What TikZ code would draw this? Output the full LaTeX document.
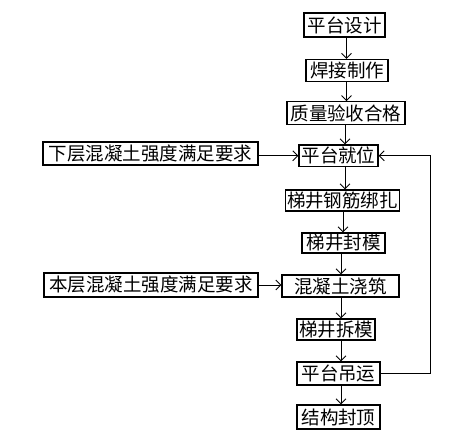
\documentclass[tikz,border=0pt]{standalone}
\usepackage{fontspec}
\newfontfamily\cjk{Noto Sans CJK SC}
\usetikzlibrary{arrows.meta}
\begin{document}
\begin{tikzpicture}[x=1pt,y=-1pt,
  box/.style={draw, line width=1.2pt, inner sep=0pt, font=\cjk\fontsize{18.5}{19}\selectfont},
  arr/.style={line width=0.9pt, -{Straight Barb[length=5pt,width=10pt,line width=0.9pt]}},
  ln/.style={line width=0.9pt}]
\useasboundingbox (0,0) rectangle (459,448);
\fill[white] (0,0) rectangle (459,448);
\node[box, minimum width=81pt, minimum height=24pt] (n1) at (344.5,25) {平台设计};
\node[box, minimum width=82pt, minimum height=22pt] (n2) at (347,70.5) {焊接制作};
\node[box, minimum width=118pt, minimum height=23pt] (n3) at (346,113.3) {质量验收合格};
\node[box, minimum width=79pt, minimum height=21.5pt] (n4) at (338.5,155.8) {平台就位};
\node[box, minimum width=114pt, minimum height=21pt] (n5) at (342.5,200.5) {梯井钢筋绑扎};
\node[box, minimum width=83pt, minimum height=20pt] (n6) at (343.5,243) {梯井封模};
\node[box, minimum width=117pt, minimum height=22pt] (n7) at (340.5,286) {混凝土浇筑};
\node[box, minimum width=78pt, minimum height=21pt] (n8) at (336,329.5) {梯井拆模};
\node[box, minimum width=83pt, minimum height=23pt] (n9) at (338.5,373.5) {平台吊运};
\node[box, minimum width=83pt, minimum height=24pt] (n10) at (338.5,417) {结构封顶};
\node[box, minimum width=215pt, minimum height=23pt] (l1) at (150.5,153.5) {下层混凝土强度满足要求};
\node[box, minimum width=214pt, minimum height=24pt] (l2) at (151,285) {本层混凝土强度满足要求};
\coordinate (a1) at (346.5,0);
\coordinate (a2) at (345,0);
\coordinate (a3) at (343,0);
\coordinate (a4) at (341,0);
\coordinate (rx) at (430,0);
\draw[arr] (n1.south -| a1) -- (n2.north -| a1);
\draw[arr] (n2.south -| a1) -- (n3.north -| a1);
\draw[arr] (n3.south -| a2) -- (n4.north -| a2);
\draw[arr] (n4.south -| a2) -- (n5.north -| a2);
\draw[arr] (n5.south -| a3) -- (n6.north -| a3);
\draw[arr] (n6.south -| a4) -- (n7.north -| a4);
\draw[arr] (n7.south -| a4) -- (n8.north -| a4);
\draw[arr] (n8.south -| a4) -- (n9.north -| a4);
\draw[arr] (n9.south -| a4) -- (n10.north -| a4);
\draw[arr] (l1.east |- n4) -- (n4.west);
\draw[arr] (l2.east) -- (n7.west |- l2.east);
\draw[arr] (n9.east) -| (rx |- n4.east) -- (n4.east);
\end{tikzpicture}
\end{document}
